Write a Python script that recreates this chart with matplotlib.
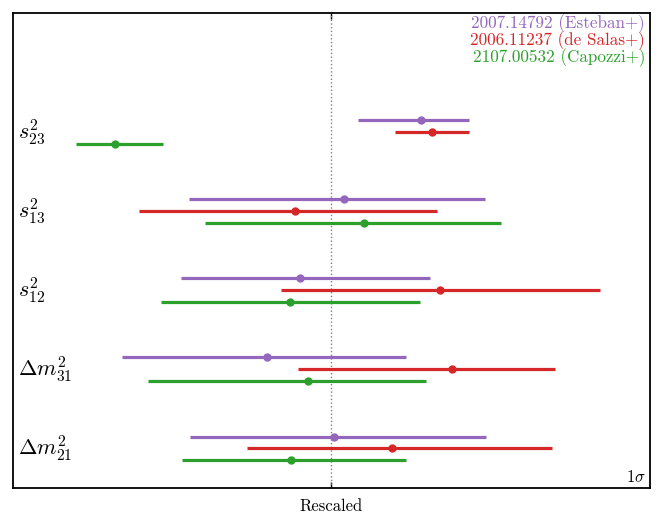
import numpy as np
import matplotlib
matplotlib.use("Agg")
import matplotlib.pyplot as plt

plt.rcParams['font.family'] = 'serif'
plt.rcParams['font.serif'] = ['cmr10', 'DejaVu Serif']
plt.rcParams['mathtext.fontset'] = 'cm'
plt.rcParams['axes.formatter.use_mathtext'] = True

# parameters, top to bottom
params = [r'$s^2_{23}$', r'$s^2_{13}$', r'$s^2_{12}$', r'$\Delta m^2_{31}$', r'$\Delta m^2_{21}$']

# rescaled best fit and 1 sigma ranges (centre = 0)
labels = ['2007.14792 (Esteban+)', '2006.11237 (de Salas+)', '2107.00532 (Capozzi+)']
colors = ['#9467bd', '#d62728', '#2ca02c']

esteban_best = [0.90, 0.13, -0.31, -0.64, 0.03]
esteban_lo = [0.27, -1.42, -1.50, -2.09, -1.41]
esteban_hi = [1.38, 1.54, 0.99, 0.75, 1.55]

desalas_best = [1.01, -0.36, 1.09, 1.21, 0.61]
desalas_lo = [0.64, -1.92, -0.50, -0.33, -0.84]
desalas_hi = [1.38, 1.06, 2.69, 2.24, 2.21]

capozzi_best = [-2.16, 0.33, -0.41, -0.23, -0.40]
capozzi_lo = [-2.55, -1.26, -1.70, -1.83, -1.49]
capozzi_hi = [-1.68, 1.70, 0.89, 0.95, 0.75]

best = [esteban_best, desalas_best, capozzi_best]
lo = [esteban_lo, desalas_lo, capozzi_lo]
hi = [esteban_hi, desalas_hi, capozzi_hi]
offsets = [0.15, 0.0, -0.15]

fig = plt.figure(figsize=(6.64, 5.30), dpi=100)
ax = fig.add_axes([12.7 / 664, 1 - 488 / 530, (650 - 12.7) / 664, (488 - 13) / 530])

ypos = np.arange(len(params))[::-1]

ax.axvline(0, color='gray', ls=':', lw=1)

for k in range(3):
    b = np.array(best[k])
    l = np.array(lo[k])
    h = np.array(hi[k])
    y = ypos + offsets[k]
    ax.hlines(y, l, h, color=colors[k], lw=2.3)
    ax.plot(b, y, 'o', color=colors[k], ms=5)

for i, p in enumerate(params):
    ax.text(0.008, ypos[i], p, transform=ax.get_yaxis_transform(), fontsize=16,
            va='center', ha='left')

for k in range(3):
    ax.text(0.992, 0.997 - k * 0.036, labels[k], color=colors[k], transform=ax.transAxes,
            ha='right', va='top', fontsize=12.3)

ax.text(0.993, 0.006, r'$1\sigma$', transform=ax.transAxes, ha='right', va='bottom', fontsize=12)

ax.set_xlim(-3.186, 3.186)
ax.set_ylim(-0.5, 5.5)
ax.set_yticks([])
ax.set_xticks([0])
ax.set_xticklabels([''])
ax.tick_params(axis='x', direction='in', top=True, length=4, width=1)
ax.set_xlabel('Rescaled', fontsize=12)
for s in ax.spines.values():
    s.set_linewidth(1.3)

fig.savefig('out.png', dpi=100)
